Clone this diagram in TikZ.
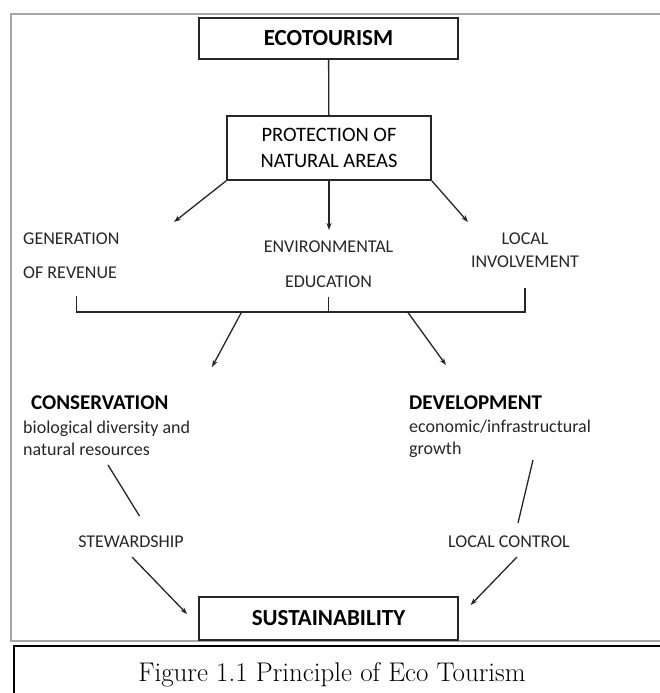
\documentclass[tikz,border=0pt]{standalone}
\usepackage{fontspec}
\newfontfamily\calib{Carlito}
\usetikzlibrary{arrows.meta}
\tikzset{
  boxnode/.style={draw=black!85, line width=1.8pt, inner sep=0pt, font=\calib\bfseries\fontsize{23}{26}\selectfont},
  plaintext/.style={inner sep=0pt, font=\calib\fontsize{18}{22}\selectfont, text=black!85},
  headtext/.style={inner sep=0pt, font=\calib\bfseries\fontsize{21}{24}\selectfont},
  conn/.style={line width=1.3pt, black!85},
}
\begin{document}
\begin{tikzpicture}[x=1pt, y=-1pt, >={Stealth[length=7pt,width=5pt]}]
  \useasboundingbox (0,0) rectangle (659,693);
  % frame and caption box
  \draw[gray!70, line width=1.6pt] (11,14) rectangle (680,641);
  \draw[black, line width=1.6pt] (14,646) rectangle (680,710);
  \node (caption) at (332,675) {\fontsize{27}{30}\selectfont Figure 1.1 Principle of Eco Tourism};
  % top boxes
  \node[boxnode, minimum width=259pt, minimum height=41pt] (eco) at (328.5,38.5) {ECOTOURISM};
  \node[boxnode, minimum width=204pt, minimum height=64pt, align=center,
        font=\calib\fontsize{20.5}{26}\selectfont] (prot) at (329,148) {PROTECTION OF\\NATURAL AREAS};
  \draw[conn] (eco) -- (prot);
  % the three benefits
  \node[plaintext, align=left, anchor=west, font=\calib\fontsize{18}{34}\selectfont] (gen) at (23,256) {GENERATION\\OF REVENUE};
  \node[plaintext, align=center, font=\calib\fontsize{18}{35}\selectfont] (env) at (328.5,264.5) {ENVIRONMENTAL\\EDUCATION};
  \node[plaintext, align=center, font=\calib\fontsize{18}{23}\selectfont] (loc) at (525,250.5) {LOCAL\\INVOLVEMENT};
  \coordinate (genin) at (174,222);
  \coordinate (envin) at (329,230);
  \coordinate (locin) at (468,222);
  \draw[conn, ->] (prot.south west) -- (genin);
  \draw[conn, ->] (prot.south) -- (envin);
  \draw[conn, ->] (prot.south east) -- (locin);
  % bracket joining them
  \coordinate (bl) at (76.5,312);
  \coordinate (bm) at (328.5,312);
  \coordinate (br) at (525,312);
  \draw[conn] (76.5,296) -- (bl) -- (br) -- (525,288);
  \draw[conn] (328.5,297) -- (bm);
  \coordinate (consout) at (241.6,312);
  \coordinate (devout) at (407.6,312);
  \coordinate (consin) at (212,367);
  \coordinate (devin) at (446,365);
  \draw[conn, ->] (consout) -- (consin);
  \draw[conn, ->] (devout) -- (devin);
  % conservation and development
  \node[headtext, anchor=west] (conshead) at (31,403) {CONSERVATION};
  \node[plaintext, align=left, anchor=west] (consbody) at (23,438.5) {biological diversity and\\natural resources};
  \node[headtext, anchor=west] (devhead) at (409,403) {DEVELOPMENT};
  \node[plaintext, align=left, anchor=west] (devbody) at (409,438.5) {economic/infrastructural\\growth};
  % paths to sustainability
  \node[plaintext] (stew) at (131,542) {STEWARDSHIP};
  \node[plaintext] (lctrl) at (509,542) {LOCAL CONTROL};
  \node[boxnode, minimum width=259pt, minimum height=43pt] (sust) at (328.5,618.5) {SUSTAINABILITY};
  \coordinate (stewtop) at (108,465);
  \coordinate (stewbot) at (139.5,516);
  \coordinate (stewout) at (132,557);
  \coordinate (sustl) at (187,614);
  \coordinate (lctrltop) at (533,460);
  \coordinate (lctrlbot) at (518,523);
  \coordinate (lctrlout) at (517,557);
  \coordinate (sustr) at (470.6,605);
  \draw[conn] (stewtop) -- (stewbot);
  \draw[conn, ->] (stewout) -- (sustl);
  \draw[conn] (lctrltop) -- (lctrlbot);
  \draw[conn, ->] (lctrlout) -- (sustr);
\end{tikzpicture}
\end{document}
